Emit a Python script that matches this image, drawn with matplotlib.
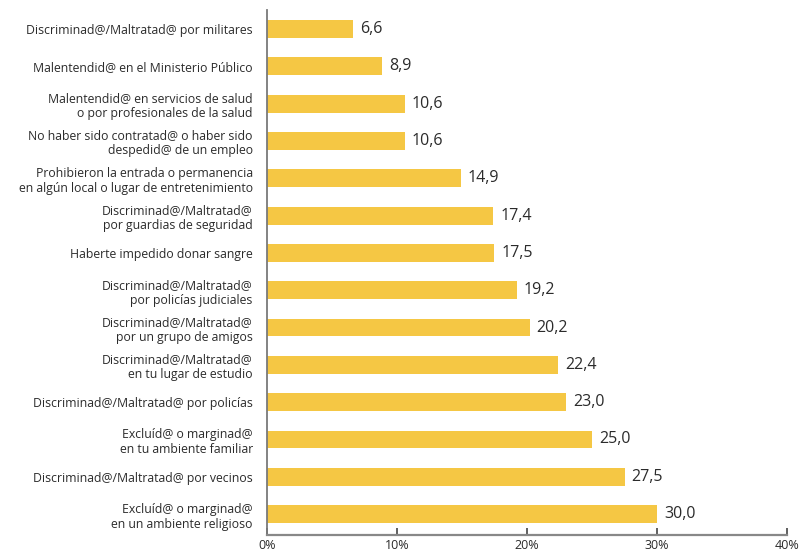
import matplotlib.pyplot as plt
import numpy as np

plt.rcParams['font.family'] = ['Open Sans', 'DejaVu Sans']

# Categories from top to bottom
categories = [
    'Discriminad@/Maltratad@ por militares',
    'Malentendid@ en el Ministerio Público',
    'Malentendid@ en servicios de salud\no por profesionales de la salud',
    'No haber sido contratad@ o haber sido\ndespedid@ de un empleo',
    'Prohibieron la entrada o permanencia\nen algún local o lugar de entretenimiento',
    'Discriminad@/Maltratad@\npor guardias de seguridad',
    'Haberte impedido donar sangre',
    'Discriminad@/Maltratad@\npor policías judiciales',
    'Discriminad@/Maltratad@\npor un grupo de amigos',
    'Discriminad@/Maltratad@\nen tu lugar de estudio',
    'Discriminad@/Maltratad@ por policías',
    'Excluíd@ o marginad@\nen tu ambiente familiar',
    'Discriminad@/Maltratad@ por vecinos',
    'Excluíd@ o marginad@\nen un ambiente religioso',
]
values = [6.6, 8.9, 10.6, 10.6, 14.9, 17.4, 17.5, 19.2, 20.2, 22.4, 23.0, 25.0, 27.5, 30.0]
xticks = [0, 10, 20, 30, 40]
xtick_labels = ['0%', '10%', '20%', '30%', '40%']

bar_color = '#F5C744'
axis_color = '#7a7a7a'
text_color = '#2b2b2b'

fig = plt.figure(figsize=(8.02, 5.54), dpi=100)
ax = fig.add_axes([0.3325, 0.0343, 0.649, 0.9477])

y = np.arange(len(categories))
ax.barh(y, values, height=0.48, color=bar_color, zorder=2)

for yi, v in zip(y, values):
    ax.text(v + 0.55, yi, f'{v:.1f}'.replace('.', ','), va='center', ha='left',
            fontsize=11.5, color=text_color)

ax.set_xlim(0, 40)
ax.set_ylim(13.56, -0.51)
ax.set_yticks(y)
ax.set_yticklabels(categories, fontsize=8.8, color=text_color, linespacing=1.2)
ax.tick_params(axis='y', length=0, pad=10)

ax.set_xticks(xticks)
ax.set_xticklabels(xtick_labels, fontsize=9, color=text_color)
ax.tick_params(axis='x', direction='in', length=5, width=1.2, color='#444444', pad=3)

for side in ['top', 'right']:
    ax.spines[side].set_visible(False)
ax.spines['left'].set_color(axis_color)
ax.spines['left'].set_linewidth(1.3)
ax.spines['bottom'].set_color('#888888')
ax.spines['bottom'].set_linewidth(1.6)

plt.savefig('out.png', dpi=100)
